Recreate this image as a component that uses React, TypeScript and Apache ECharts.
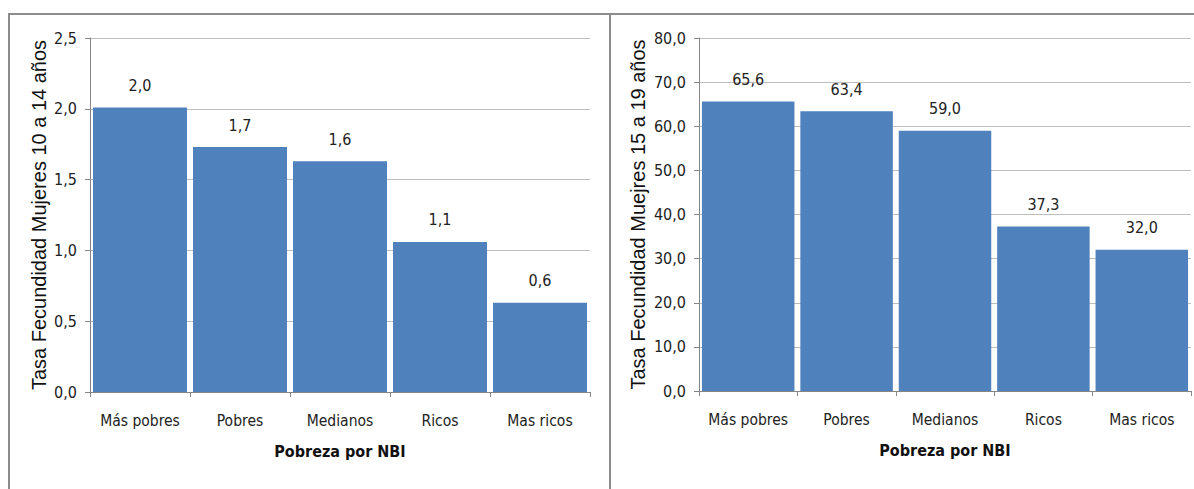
import React, { useEffect, useRef } from "react";
import * as echarts from "echarts";

const categories = ["Más pobres", "Pobres", "Medianos", "Ricos", "Mas ricos"];
const values10a14 = [2.01, 1.73, 1.63, 1.06, 0.63];
const values15a19 = [65.6, 63.4, 59.0, 37.3, 32.0];
const yTitle1 = "Tasa Fecundidad Mujeres 10 a 14 años";
const yTitle2 = "Tasa Fecundidad Muejres 15 a 19 años";
const xTitle = "Pobreza por NBI";

const fmt = (v: number) => v.toFixed(1).replace(".", ",");
const NARROW = "'DejaVu Sans Condensed', 'Open Sans', sans-serif";
const SANS = "'Liberation Sans', Arial, sans-serif";
const BAR = "#4F81BD";
const AXIS = "#868686";
const GRID = "#BDBDBD";

export default function App() {
  const ref = useRef<HTMLDivElement>(null);
  useEffect(() => {
    document.body.style.margin = "0";
    const chart = echarts.init(ref.current!, null, { renderer: "svg" });
    const xAxis = (gi: number) => ({
      type: "category",
      gridIndex: gi,
      data: categories,
      axisLine: { lineStyle: { color: AXIS, width: 1 } },
      axisTick: { show: true, length: 5, lineStyle: { color: AXIS } },
      axisLabel: { color: "#222", fontFamily: NARROW, fontSize: 15.5, margin: 21, interval: 0 },
      name: xTitle,
      nameLocation: "middle",
      nameGap: 51,
      nameTextStyle: { color: "#111", fontFamily: NARROW, fontSize: 16, fontWeight: "bold" },
    });
    const yAxis = (gi: number, max: number, interval: number, title: string, gap: number) => ({
      type: "value",
      gridIndex: gi,
      min: 0,
      max,
      interval,
      axisLine: { show: true, lineStyle: { color: AXIS, width: 1 } },
      axisTick: { show: true, length: 5, lineStyle: { color: AXIS } },
      splitLine: { lineStyle: { color: GRID, width: 1 } },
      axisLabel: { color: "#222", fontFamily: NARROW, fontSize: 16, margin: 13, formatter: (v: number) => fmt(v) },
      name: title,
      nameLocation: "middle",
      nameGap: gap,
      nameTextStyle: { color: "#111", fontFamily: SANS, fontSize: 20 },
    });
    const series = (gi: number, data: number[]) => ({
      type: "bar",
      xAxisIndex: gi,
      yAxisIndex: gi,
      data,
      barCategoryGap: "6%",
      itemStyle: { color: BAR },
      label: {
        show: true,
        position: "top",
        distance: 14,
        color: "#222",
        fontFamily: NARROW,
        fontSize: 16,
        formatter: (p: any) => fmt(p.value),
      },
    });
    chart.setOption({
      animation: false,
      grid: [
        { left: 90, top: 38, width: 500, height: 354 },
        { left: 699, top: 38, width: 492, height: 353 },
      ],
      xAxis: [xAxis(0), xAxis(1)],
      yAxis: [
        yAxis(0, 2.5, 0.5, yTitle1, 41),
        yAxis(1, 80, 10, yTitle2, 51),
      ],
      series: [series(0, values10a14), series(1, values15a19)],
      graphic: [
        { type: "line", shape: { x1: 8, y1: 14, x2: 1194, y2: 14 }, style: { stroke: "#8C8C8C", lineWidth: 2 } },
        { type: "line", shape: { x1: 9, y1: 14, x2: 9, y2: 489 }, style: { stroke: "#8C8C8C", lineWidth: 2 } },
        { type: "line", shape: { x1: 610, y1: 14, x2: 610, y2: 489 }, style: { stroke: "#8C8C8C", lineWidth: 2 } },
      ],
    });
    return () => chart.dispose();
  }, []);
  return <div ref={ref} style={{ width: 1194, height: 489, background: "#fff" }} />;
}
